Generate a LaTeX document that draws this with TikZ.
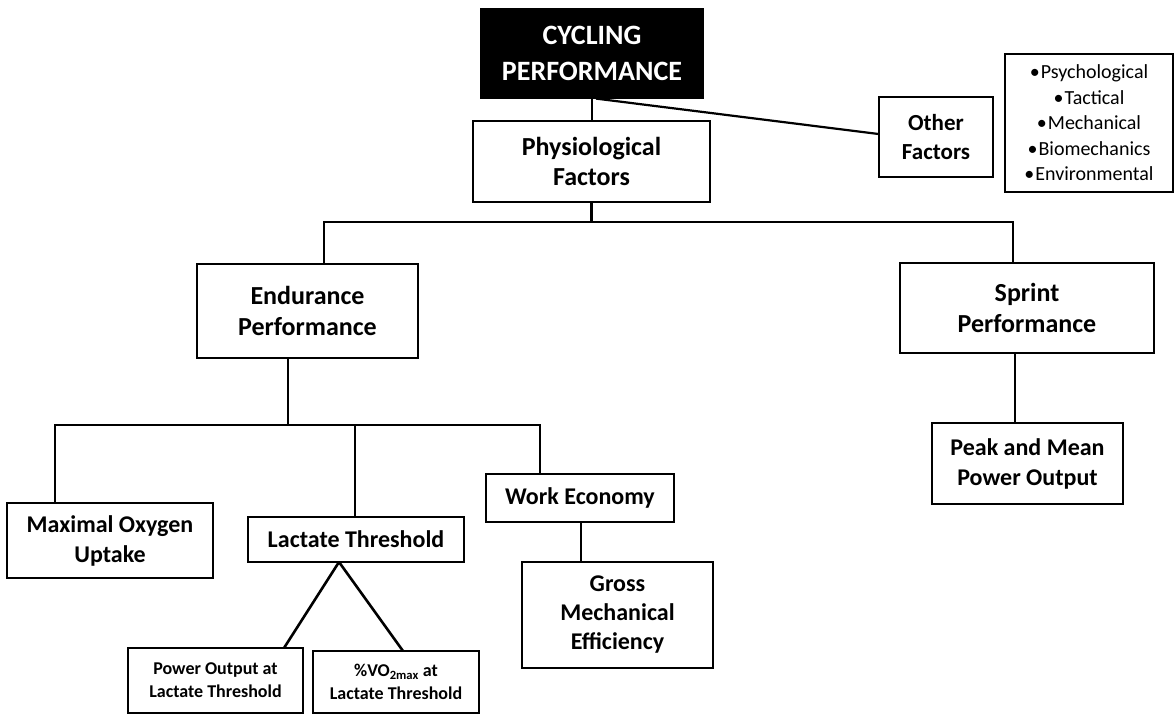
\documentclass[tikz,border=0pt]{standalone}
\usepackage{fontspec}
\setmainfont{Carlito}
\usetikzlibrary{calc}

\tikzset{
  box/.style={draw=black, line width=1.2pt, fill=white, align=center,
              inner sep=0pt, text=black},
  conn/.style={draw=black, line width=2.6pt},
  big/.style={font=\fontsize{26}{31}\selectfont\bfseries},
  mid/.style={font=\fontsize{24}{30}\selectfont\bfseries},
  small/.style={font=\fontsize{18}{23}\selectfont\bfseries},
}

\begin{document}
\begin{tikzpicture}[x=1pt, y=-1pt]
\useasboundingbox (0,0) rectangle (1175,719);

% ---- top level ----
\node[box, fill=black, text=white, font=\fontsize{28}{36}\selectfont\bfseries,
      minimum width=222pt, minimum height=89pt] (cp) at (592,53.5)
      {CYCLING\\PERFORMANCE};
\node[box, font=\fontsize{26}{30}\selectfont\bfseries,
      minimum width=237pt, minimum height=81pt] (pf) at (591.5,161.5)
      {Physiological\\Factors};
\node[box, font=\fontsize{23}{29}\selectfont\bfseries,
      minimum width=114pt, minimum height=80pt] (of) at (936,137)
      {Other\\Factors};
\node[box, font=\fontsize{20}{25.5}\selectfont,
      minimum width=168pt, minimum height=138pt] (list) at (1089,123)
      {\textbullet\hspace{1pt}Psychological\\
       \textbullet\hspace{1pt}Tactical\\
       \textbullet\hspace{1pt}Mechanical\\
       \textbullet\hspace{1pt}Biomechanics\\
       \textbullet\hspace{1pt}Environmental};

% ---- second level ----
\node[box, big, minimum width=221pt, minimum height=94pt] (end) at (307.5,311)
      {Endurance\\Performance};
\node[box, big, minimum width=254pt, minimum height=90pt] (spr) at (1027,308)
      {Sprint\\Performance};

% ---- third level ----
\node[box, mid, minimum width=191pt, minimum height=81pt] (peak) at (1027.5,463.5)
      {Peak and Mean\\Power Output};
\node[box, mid, minimum width=206pt, minimum height=75pt] (max) at (110,540.5)
      {Maximal Oxygen\\Uptake};
\node[box, mid, minimum width=216pt, minimum height=45pt] (lt) at (356,539.5)
      {Lactate Threshold};
\node[box, mid, minimum width=188pt, minimum height=48pt] (we) at (580,498)
      {Work Economy};
\node[box, font=\fontsize{24}{29}\selectfont\bfseries,
      minimum width=191pt, minimum height=106pt] (gme) at (617.5,615)
      {Gross\\Mechanical\\Efficiency};

% ---- fourth level ----
\node[box, small, minimum width=175pt, minimum height=65pt] (po) at (215.5,680.5)
      {Power Output at\\Lactate Threshold};
\node[box, small, minimum width=166pt, minimum height=62pt] (vo) at (396,682)
      {\%VO\textsubscript{2max} at\\Lactate Threshold};

% ---- connectors ----
\draw[conn] (cp.south) -- (cp.south |- pf.north);
\draw[conn, line width=2.2pt] ($(cp.south)+(4,0)$) -- ($(of.west)+(0,-3)$);

% bus below the physiological factors
\coordinate (busAl) at (324,222);
\coordinate (busAr) at (1013,222);
\draw[conn] (pf.south) -- (pf.south |- busAl);
\draw[conn] (end.north -| busAl) -- (busAl) -- (busAr) -- (busAr |- spr.north);

% bus below endurance performance
\coordinate (endOut) at (288,358);
\coordinate (busBl) at (55,425);
\coordinate (busBm) at (355,425);
\coordinate (busBr) at (540,425);
\draw[conn] (endOut) -- (endOut |- busBl);
\draw[conn] (max.north -| busBl) -- (busBl) -- (busBr) -- (busBr |- we.north);
\draw[conn] (busBm) -- (busBm |- lt.north);

% lactate threshold branches
\coordinate (apex) at (339,562);
\coordinate (poTop) at (284,648);
\coordinate (voTop) at (403,651);
\draw[conn] (apex) -- (poTop);
\draw[conn] (apex) -- (voTop);

% work economy and sprint children
\coordinate (weLink) at (581,0);
\coordinate (sprLink) at (1015,0);
\draw[conn] (we.south -| weLink) -- (gme.north -| weLink);
\draw[conn] (spr.south -| sprLink) -- (peak.north -| sprLink);
\end{tikzpicture}
\end{document}
